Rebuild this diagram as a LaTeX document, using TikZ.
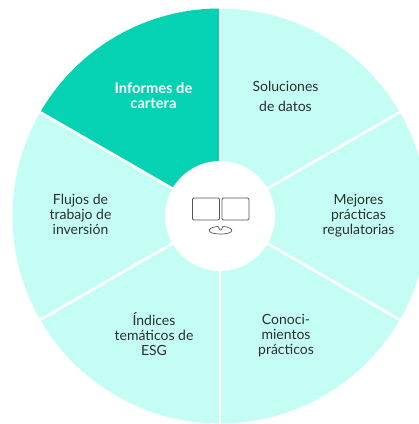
\documentclass[tikz,border=0pt]{standalone}
\usepackage{fontspec}
\setmainfont{Lato}
\definecolor{pale}{HTML}{C4FDF4}
\definecolor{strong}{HTML}{05D1B3}
\definecolor{ink}{HTML}{2A2F2F}
\definecolor{icon}{HTML}{555555}
\tikzset{
  seclabel/.style={align=center,text=ink,font=\fontsize{14}{15}\selectfont,inner sep=0pt},
  spoke/.style={draw=white,line width=2.6pt},
  screen/.style={draw=icon,line width=0.9pt,rounded corners=1.2pt,fill=white},
}
\begin{document}
\begin{tikzpicture}[x=1pt,y=-1pt]
\useasboundingbox (0,0) rectangle (419,424);
\clip (0,0) rectangle (419,424);
\coordinate (c) at (220,216);
\fill[pale] (c) circle[radius=207.5];
\fill[strong] (c) -- (220,8.5) arc[start angle=-90,end angle=-150,radius=207.5] -- cycle;
\foreach \a in {1,...,6}{
  \draw[spoke] (c) -- ++({60*\a+30}:210);
}
\fill[white] (c) circle[radius=55];
\draw[screen] (192.5,198) rectangle (219.5,220);
\draw[screen] (222,198) rectangle (249,220);
\draw[icon,line width=0.7pt] (217,226.5) .. controls (220,226) and (218,230) .. (220.5,230) .. controls (223,230) and (221,226) .. (224,226.5) .. controls (235,228) and (235,234) .. (220.5,234) .. controls (206,234) and (206,228) .. (217,226.5) -- cycle;
\node[seclabel,font=\fontsize{14.7}{15}\selectfont\bfseries,text=white] (a) at (153.5,96) {Informes de\\cartera};
\node[seclabel] (b) at (285.5,96) {Soluciones\\[5pt]de datos};
\node[seclabel] (d) at (358.5,216) {Mejores\\prácticas\\regulatorias};
\node[seclabel] (e) at (286,336) {Conoci-\\mientos\\prácticos};
\node[seclabel] (f) at (154,334.5) {Índices\\temáticos de\\ESG};
\node[seclabel] (g) at (80.5,214.5) {Flujos de\\trabajo de\\inversión};
\end{tikzpicture}
\end{document}
